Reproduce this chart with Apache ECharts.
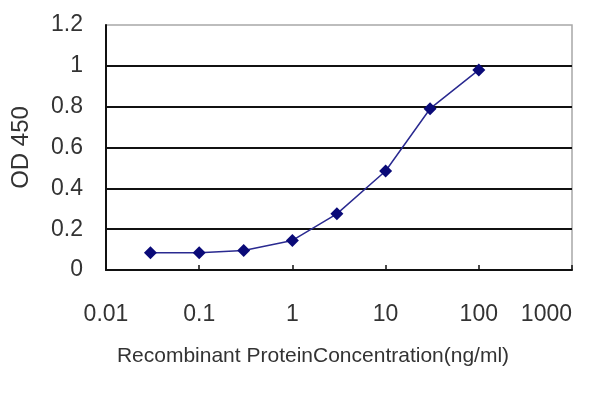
<!DOCTYPE html>
<html>
<head>
<meta charset="utf-8">
<script src="https://cdn.jsdelivr.net/npm/echarts@6/dist/echarts.min.js"></script>
<style>
html,body{margin:0;padding:0;background:#fff;}
#chart{width:600px;height:400px;}
</style>
</head>
<body>
<div id="chart"></div>
<script>
const concentrations = [0.03, 0.1, 0.3, 1, 3, 10, 30, 100];
const od450 = [0.085, 0.085, 0.095, 0.145, 0.275, 0.485, 0.79, 0.98];
const yTicks = [0, 0.2, 0.4, 0.6, 0.8, 1, 1.2];
const xTicks = [0.01, 0.1, 1, 10, 100, 1000];
const xTickLabels = ['0.01', '0.1', '1', '10', '100', '1000'];
const xTitle = 'Recombinant ProteinConcentration(ng/ml)';
const yTitle = 'OD 450';

const chart = echarts.init(document.getElementById('chart'), null, {renderer: 'canvas'});
const font = 'Liberation Sans';
chart.setOption({
  animation: false,
  backgroundColor: '#fff',
  grid: {left: 106, right: 28, top: 25, bottom: 130, show: true, borderColor: '#a8a8a8', borderWidth: 1.5, backgroundColor: 'transparent'},
  xAxis: {
    type: 'log', logBase: 10,
    min: xTicks[0], max: xTicks[xTicks.length - 1],
    name: xTitle, nameLocation: 'middle', nameGap: 76,
    nameTextStyle: {fontFamily: font, fontSize: 21, color: '#333', padding: [0, 52, 0, 0]},
    axisLine: {show: true, onZero: false, lineStyle: {color: '#111', width: 2}},
    axisTick: {show: true, inside: true, length: 5, lineStyle: {color: '#111', width: 1.5}},
    axisLabel: {
      fontFamily: font, fontSize: 23, color: '#333', margin: 33,
      alignMaxLabel: 'right',
      formatter: function (v) {
        const i = xTicks.findIndex(t => Math.abs(Math.log10(t) - Math.log10(v)) < 1e-6);
        return i >= 0 ? xTickLabels[i] : '';
      }
    },
    splitLine: {show: false},
    minorTick: {show: false}
  },
  yAxis: {
    type: 'value',
    min: yTicks[0], max: yTicks[yTicks.length - 1], interval: 0.2,
    name: yTitle, nameLocation: 'middle', nameGap: 73, nameRotate: 90,
    nameTextStyle: {fontFamily: font, fontSize: 24, color: '#333'},
    axisLine: {show: true, lineStyle: {color: '#111', width: 2}},
    axisTick: {show: false},
    axisLabel: {fontFamily: font, fontSize: 23, color: '#333', margin: 23},
    splitLine: {show: true, showMaxLine: false, lineStyle: {color: '#111', width: 2}}
  },
  series: [{
    type: 'line',
    data: concentrations.map((c, i) => [c, od450[i]]),
    symbol: 'diamond', symbolSize: 13,
    itemStyle: {color: '#0a0a78'},
    lineStyle: {color: '#2a2a90', width: 1.5}
  }]
});
</script>
</body>
</html>
